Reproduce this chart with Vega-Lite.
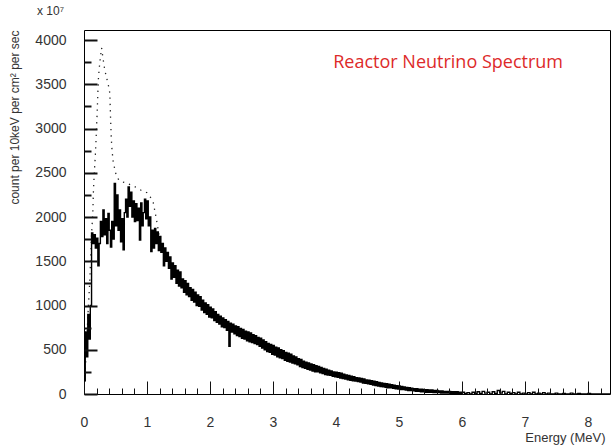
{
"$schema": "https://vega.github.io/schema/vega-lite/v6.json",
"width": 526, "height": 364,
"autosize": {"type": "none"},
"padding": {"left": 84, "top": 30, "right": 2, "bottom": 51},
"background": "white",
"config": {"view": {"stroke": "black", "strokeWidth": 1}, "font": "Liberation Sans"},
"title": {"text": "x 10⁷", "anchor": "start", "frame": "group", "dx": -47, "offset": 12, "fontSize": 12, "fontWeight": "normal", "color": "#333", "font": "Liberation Sans"},
"resolve": {"axis": {"x": "independent", "y": "independent"}},
"datasets": {
"t": [{"e": 5.78, "c": 3740, "t": "Reactor Neutrino Spectrum"}],
"d": [{"e":0,"c":0},{"e":0.03,"c":400},{"e":0.05,"c":700},{"e":0.07,"c":1000},{"e":0.09,"c":1250},{"e":0.11,"c":1600},{"e":0.12,"c":1800},{"e":0.14,"c":2050},{"e":0.15,"c":2300},{"e":0.16,"c":2450},{"e":0.18,"c":2700},{"e":0.19,"c":2850},{"e":0.2,"c":3020},{"e":0.21,"c":3200},{"e":0.22,"c":3400},{"e":0.23,"c":3580},{"e":0.25,"c":3740},{"e":0.27,"c":3860},{"e":0.28,"c":3910},{"e":0.3,"c":3800},{"e":0.33,"c":3660},{"e":0.36,"c":3570},{"e":0.39,"c":3480},{"e":0.41,"c":3400},{"e":0.42,"c":3150},{"e":0.43,"c":2950},{"e":0.44,"c":2800},{"e":0.45,"c":2720},{"e":0.46,"c":2640},{"e":0.5,"c":2500},{"e":0.55,"c":2420},{"e":0.6,"c":2400},{"e":0.7,"c":2375},{"e":0.8,"c":2345},{"e":0.9,"c":2305},{"e":1.0,"c":2275},{"e":1.05,"c":2230},{"e":1.1,"c":2160},{"e":1.13,"c":2050},{"e":1.16,"c":1930},{"e":1.2,"c":1760},{"e":1.3,"c":1560},{"e":1.4,"c":1400},{"e":1.6,"c":1200},{"e":1.8,"c":1060},{"e":2.0,"c":925},{"e":2.5,"c":680},{"e":3.0,"c":500},{"e":3.5,"c":330},{"e":4.0,"c":220},{"e":4.5,"c":135},{"e":5.0,"c":70}],
"h": [
{"e":0,"c":150},{"e":0.02,"c":700},{"e":0.04,"c":420},{"e":0.06,"c":900},{"e":0.08,"c":620},{"e":0.1,"c":1000},
{"e":0.12,"c":1820},{"e":0.14,"c":1700},{"e":0.16,"c":1800},{"e":0.18,"c":1650},{"e":0.2,"c":1760},{"e":0.22,"c":1450},{"e":0.24,"c":1700},{"e":0.26,"c":1950},{"e":0.28,"c":1780},{"e":0.3,"c":2080},
{"e":0.32,"c":1800},{"e":0.34,"c":1980},{"e":0.36,"c":1700},{"e":0.38,"c":2040},{"e":0.4,"c":1850},{"e":0.42,"c":1660},{"e":0.44,"c":1950},{"e":0.46,"c":1750},{"e":0.48,"c":2380},{"e":0.5,"c":1900},
{"e":0.52,"c":2250},{"e":0.54,"c":1850},{"e":0.56,"c":2080},{"e":0.58,"c":1720},{"e":0.6,"c":1980},{"e":0.62,"c":1630},{"e":0.64,"c":2050},{"e":0.66,"c":2200},{"e":0.68,"c":2000},{"e":0.7,"c":2340},
{"e":0.72,"c":2120},{"e":0.74,"c":2280},{"e":0.76,"c":2000},{"e":0.78,"c":2180},{"e":0.8,"c":1950},{"e":0.82,"c":2150},{"e":0.84,"c":1960},{"e":0.86,"c":2100},{"e":0.88,"c":1740},{"e":0.9,"c":2160},
{"e":0.92,"c":1900},{"e":0.94,"c":2050},{"e":0.96,"c":2200},{"e":0.98,"c":1980},{"e":1.0,"c":2180},{"e":1.02,"c":1900},{"e":1.04,"c":2000},{"e":1.06,"c":1610},{"e":1.08,"c":1850},{"e":1.1,"c":1650},
{"e":1.12,"c":1870},{"e":1.14,"c":1700},{"e":1.16,"c":1830},{"e":1.18,"c":1620},{"e":1.2,"c":1780},{"e":1.22,"c":1600},{"e":1.24,"c":1700},{"e":1.26,"c":1450},{"e":1.28,"c":1650},{"e":1.3,"c":1500},
{"e":1.32,"c":1600},{"e":1.34,"c":1420},{"e":1.36,"c":1550},{"e":1.38,"c":1300},{"e":1.4,"c":1480},{"e":1.42,"c":1320},{"e":1.44,"c":1450},{"e":1.46,"c":1250},{"e":1.48,"c":1400},{"e":1.5,"c":1220},
{"e":1.52,"c":1380},{"e":1.54,"c":1200},{"e":1.56,"c":1300},{"e":1.58,"c":1150},{"e":1.6,"c":1280},{"e":1.62,"c":1120},{"e":1.64,"c":1250},{"e":1.66,"c":1100},{"e":1.68,"c":1200},{"e":1.7,"c":1060},
{"e":1.72,"c":1180},{"e":1.74,"c":1040},{"e":1.76,"c":1150},{"e":1.78,"c":1000},{"e":1.8,"c":1120},{"e":1.82,"c":990},{"e":1.84,"c":1100},{"e":1.86,"c":950},{"e":1.88,"c":1060},{"e":1.9,"c":920},
{"e":1.92,"c":1030},{"e":1.94,"c":900},{"e":1.96,"c":1010},{"e":1.98,"c":870},{"e":2.0,"c":980},{"e":2.02,"c":860},{"e":2.04,"c":960},{"e":2.06,"c":830},{"e":2.08,"c":930},{"e":2.1,"c":810},
{"e":2.12,"c":900},{"e":2.14,"c":790},{"e":2.16,"c":880},{"e":2.18,"c":760},{"e":2.2,"c":860},{"e":2.22,"c":750},{"e":2.24,"c":840},{"e":2.26,"c":720},{"e":2.28,"c":820},{"e":2.3,"c":540},
{"e":2.32,"c":800},{"e":2.34,"c":700},{"e":2.36,"c":790},{"e":2.38,"c":680},{"e":2.4,"c":770},{"e":2.42,"c":660},{"e":2.44,"c":760},{"e":2.46,"c":650},{"e":2.48,"c":740},{"e":2.5,"c":630},
{"e":2.52,"c":730},{"e":2.54,"c":620},{"e":2.56,"c":710},{"e":2.58,"c":600},{"e":2.6,"c":700},{"e":2.62,"c":590},{"e":2.64,"c":690},{"e":2.66,"c":580},{"e":2.68,"c":670},{"e":2.7,"c":570},
{"e":2.72,"c":660},{"e":2.74,"c":560},{"e":2.76,"c":640},{"e":2.78,"c":540},{"e":2.8,"c":630},{"e":2.82,"c":520},{"e":2.84,"c":610},{"e":2.86,"c":500},{"e":2.88,"c":590},{"e":2.9,"c":480},
{"e":2.92,"c":570},{"e":2.94,"c":470},{"e":2.96,"c":560},{"e":2.98,"c":450},{"e":3.0,"c":550},{"e":3.02,"c":440},{"e":3.04,"c":530},{"e":3.06,"c":420},{"e":3.08,"c":520},{"e":3.1,"c":410},
{"e":3.12,"c":500},{"e":3.14,"c":400},{"e":3.16,"c":490},{"e":3.18,"c":380},{"e":3.2,"c":470},{"e":3.22,"c":370},{"e":3.24,"c":460},{"e":3.26,"c":360},{"e":3.28,"c":450},{"e":3.3,"c":350},
{"e":3.32,"c":430},{"e":3.34,"c":340},{"e":3.36,"c":420},{"e":3.38,"c":330},{"e":3.4,"c":400},{"e":3.42,"c":310},{"e":3.44,"c":390},{"e":3.46,"c":300},{"e":3.48,"c":370},{"e":3.5,"c":290},
{"e":3.52,"c":360},{"e":3.54,"c":280},{"e":3.56,"c":350},{"e":3.58,"c":270},{"e":3.6,"c":340},{"e":3.62,"c":260},{"e":3.64,"c":330},{"e":3.66,"c":250},{"e":3.68,"c":320},{"e":3.7,"c":250},
{"e":3.72,"c":310},{"e":3.74,"c":240},{"e":3.76,"c":300},{"e":3.78,"c":230},{"e":3.8,"c":290},{"e":3.82,"c":220},{"e":3.84,"c":280},{"e":3.86,"c":215},{"e":3.88,"c":270},{"e":3.9,"c":210},
{"e":3.92,"c":260},{"e":3.94,"c":200},{"e":3.96,"c":250},{"e":3.98,"c":195},{"e":4.0,"c":245},{"e":4.02,"c":190},{"e":4.04,"c":240},{"e":4.06,"c":180},{"e":4.08,"c":235},{"e":4.1,"c":175},
{"e":4.12,"c":225},{"e":4.14,"c":170},{"e":4.16,"c":215},{"e":4.18,"c":160},{"e":4.2,"c":210},{"e":4.22,"c":155},{"e":4.24,"c":200},{"e":4.26,"c":150},{"e":4.28,"c":195},{"e":4.3,"c":145},
{"e":4.32,"c":185},{"e":4.34,"c":140},{"e":4.36,"c":180},{"e":4.38,"c":135},{"e":4.4,"c":175},{"e":4.42,"c":125},{"e":4.44,"c":170},{"e":4.46,"c":120},{"e":4.48,"c":160},{"e":4.5,"c":115},
{"e":4.52,"c":155},{"e":4.54,"c":110},{"e":4.56,"c":150},{"e":4.58,"c":100},{"e":4.6,"c":145},{"e":4.62,"c":95},{"e":4.64,"c":140},{"e":4.66,"c":90},{"e":4.68,"c":130},{"e":4.7,"c":85},
{"e":4.72,"c":125},{"e":4.74,"c":80},{"e":4.76,"c":120},{"e":4.78,"c":75},{"e":4.8,"c":115},{"e":4.82,"c":70},{"e":4.84,"c":110},{"e":4.86,"c":70},{"e":4.88,"c":105},{"e":4.9,"c":65},
{"e":4.92,"c":100},{"e":4.94,"c":60},{"e":4.96,"c":95},{"e":4.98,"c":55},{"e":5.0,"c":90},{"e":5.02,"c":50},{"e":5.04,"c":85},{"e":5.06,"c":50},{"e":5.08,"c":80},{"e":5.1,"c":45},
{"e":5.12,"c":75},{"e":5.14,"c":40},{"e":5.16,"c":70},{"e":5.18,"c":40},{"e":5.2,"c":65},{"e":5.22,"c":35},{"e":5.24,"c":60},{"e":5.26,"c":30},{"e":5.28,"c":60},{"e":5.3,"c":30},
{"e":5.32,"c":55},{"e":5.34,"c":25},{"e":5.36,"c":55},{"e":5.38,"c":25},{"e":5.4,"c":50},{"e":5.42,"c":20},{"e":5.44,"c":50},{"e":5.46,"c":20},{"e":5.48,"c":45},{"e":5.5,"c":20},
{"e":5.52,"c":45},{"e":5.54,"c":15},{"e":5.56,"c":40},{"e":5.58,"c":15},{"e":5.6,"c":40},{"e":5.62,"c":15},{"e":5.64,"c":35},{"e":5.66,"c":10},{"e":5.68,"c":35},{"e":5.7,"c":10},
{"e":5.72,"c":30},{"e":5.74,"c":10},{"e":5.76,"c":30},{"e":5.78,"c":10},{"e":5.8,"c":30},{"e":5.82,"c":5},{"e":5.84,"c":25},{"e":5.86,"c":5},{"e":5.88,"c":25},{"e":5.9,"c":5},
{"e":5.92,"c":25},{"e":5.94,"c":5},{"e":5.96,"c":20},{"e":5.98,"c":5},{"e":6.0,"c":20},
{"e":6.04,"c":5},{"e":6.08,"c":15},{"e":6.12,"c":0},{"e":6.16,"c":20},{"e":6.2,"c":5},{"e":6.24,"c":25},{"e":6.28,"c":5},{"e":6.32,"c":30},{"e":6.36,"c":10},{"e":6.4,"c":20},
{"e":6.44,"c":0},{"e":6.48,"c":25},{"e":6.52,"c":5},{"e":6.56,"c":40},{"e":6.6,"c":10},{"e":6.64,"c":30},{"e":6.68,"c":0},{"e":6.72,"c":20},{"e":6.76,"c":5},{"e":6.8,"c":15},
{"e":6.84,"c":0},{"e":6.88,"c":20},{"e":6.92,"c":0},{"e":6.96,"c":10},{"e":7.0,"c":0},{"e":7.04,"c":15},{"e":7.08,"c":0},{"e":7.12,"c":20},{"e":7.16,"c":0},{"e":7.2,"c":10},
{"e":7.24,"c":0},{"e":7.28,"c":15},{"e":7.32,"c":0},{"e":7.36,"c":10},{"e":7.4,"c":0},{"e":7.48,"c":10},{"e":7.52,"c":0},{"e":7.6,"c":5},{"e":7.64,"c":0},{"e":7.72,"c":10},
{"e":7.76,"c":0},{"e":7.84,"c":5},{"e":7.88,"c":0},{"e":8.0,"c":5},{"e":8.04,"c":0},{"e":8.35,"c":0}
]
},
"layer": [
{"data": {"name": "d"},
 "mark": {"type": "line", "color": "#222", "strokeWidth": 1.3, "strokeDash": [1.3, 5], "clip": true},
 "encoding": {
  "x": {"field": "e", "type": "quantitative", "scale": {"domain": [0, 8.35], "nice": false, "zero": false},
   "axis": {"orient": "bottom", "offset": -6, "zindex": 1, "ticks": true, "values": [0.2,0.4,0.6,0.8,1.2,1.4,1.6,1.8,2.2,2.4,2.6,2.8,3.2,3.4,3.6,3.8,4.2,4.4,4.6,4.8,5.2,5.4,5.6,5.8,6.2,6.4,6.6,6.8,7.2,7.4,7.6,7.8,8.2],
    "labels": false, "domain": false, "grid": false, "tickSize": 6, "tickColor": "#111111", "tickWidth": 1, "title": null}},
  "y": {"field": "c", "type": "quantitative", "scale": {"domain": [0, 4113], "nice": false},
   "axis": {"orient": "left", "offset": -7, "zindex": 1, "ticks": true, "values": [250,750,1250,1750,2250,2750,3250,3750],
    "labels": false, "domain": false, "grid": false, "tickSize": 7, "tickColor": "#111111", "tickWidth": 2, "title": null}}
 }},
{"data": {"name": "h"},
 "mark": {"type": "line", "interpolate": "step-after", "color": "black", "strokeWidth": 1.4, "clip": true},
 "encoding": {
  "x": {"field": "e", "type": "quantitative", "scale": {"domain": [0, 8.35], "nice": false, "zero": false},
   "axis": {"orient": "bottom", "offset": -13, "zindex": 1, "ticks": true, "values": [0,1,2,3,4,5,6,7,8], "format": "d",
    "tickSize": 13, "tickColor": "#111111", "tickWidth": 1, "domain": false, "grid": false, "labelFontSize": 14, "labelColor": "#333", "labelFont": "Liberation Sans", "labelPadding": 21, "labelFlush": false, "labelOverlap": false,
    "title": "Energy (MeV)", "titleFontSize": 13, "titleFontWeight": "normal", "titleColor": "#333", "titleAnchor": "end", "titleAlign": "right", "titleX": 521, "titleY": 60, "titleBaseline": "alphabetic"}},
  "y": {"field": "c", "type": "quantitative", "scale": {"domain": [0, 4113], "nice": false},
   "axis": {"orient": "left", "offset": -13, "zindex": 1, "ticks": true, "values": [0,500,1000,1500,2000,2500,3000,3500,4000], "format": "d",
    "tickSize": 13, "tickColor": "#111111", "tickWidth": 2, "domain": false, "grid": false, "labelFontSize": 14, "labelColor": "#333", "labelFont": "Liberation Sans", "labelPadding": 18, "labelOverlap": false, "labelFlush": false,
    "title": "count per 10keV per cm² per sec", "titleFontSize": 12, "titleFontWeight": "normal", "titleColor": "#333", "titleAnchor": "end", "titleAlign": "right", "titleX": -79, "titleY": 0, "titleBaseline": "alphabetic"}}
 }},
{"data": {"name": "t"},
 "mark": {"type": "text", "color": "#dd2a2a", "font": "Open Sans", "fontSize": 18, "align": "center", "baseline": "middle"},
 "encoding": {
  "x": {"field": "e", "type": "quantitative", "scale": {"domain": [0, 8.35], "nice": false, "zero": false}, "axis": null},
  "y": {"field": "c", "type": "quantitative", "scale": {"domain": [0, 4113], "nice": false}, "axis": null},
  "text": {"field": "t"}}}
]
}
